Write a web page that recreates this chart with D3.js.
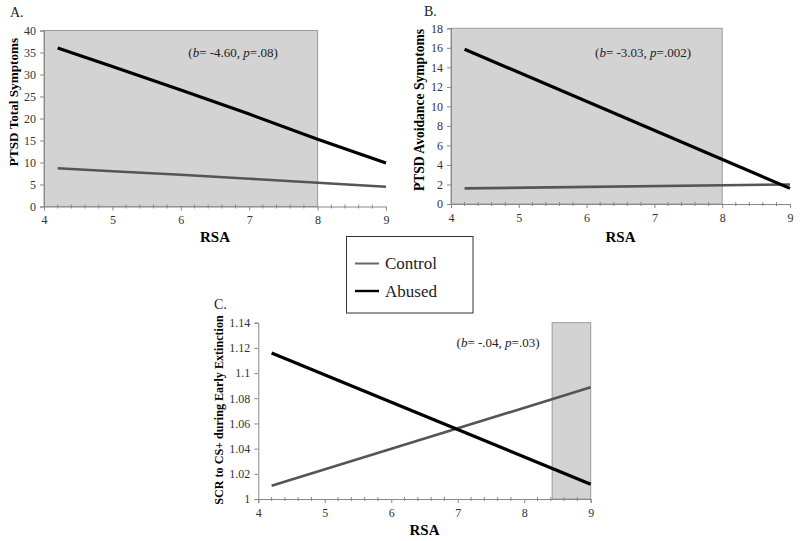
<!DOCTYPE html>
<html><head><meta charset="utf-8">
<script src="https://cdn.jsdelivr.net/npm/d3@7"></script>
<style>body{margin:0;background:#fff}svg{display:block}svg text{font-family:"Liberation Serif","Times New Roman",serif}</style>
</head><body>
<svg id="c" width="800" height="541"></svg>
<script>
// ---- data ----
const seriesNames = ["Control", "Abused"];
const rsaA = [4.2, 5, 6, 7, 8, 9];
const controlA = [8.7, 8.0, 7.2, 6.3, 5.4, 4.5];
const abusedA = [36.0, 31.8, 26.5, 21.0, 15.3, 9.9];
const rsaB = [4.2, 9];
const controlB = [1.6, 2.0];
const abusedB = [15.85, 1.6];
const rsaC = [4.2, 9];
const controlC = [1.0106, 1.0887];
const abusedC = [1.116, 1.0117];
const regionA = [4, 8];
const regionB = [4, 8];
const regionC = [8.42, 9];
const xTicks = [4, 5, 6, 7, 8, 9];
const yTicksA = [0, 5, 10, 15, 20, 25, 30, 35, 40];
const yTicksB = [0, 2, 4, 6, 8, 10, 12, 14, 16, 18];
const yTicksC = [1, 1.02, 1.04, 1.06, 1.08, 1.1, 1.12, 1.14];
const annA = ["-4.60", ".08"];
const annB = ["-3.03", ".002"];
const annC = ["-.04", ".03"];

const svg = d3.select("#c");
const FONT = '"Liberation Serif","Times New Roman",serif';
const colors = {Control: "#555555", Abused: "#000"};
const widths = {Control: 2.6, Abused: 3.2};

function panel(o) {
  const x = d3.scaleLinear().domain([4, 9]).range([o.x0, o.x1]);
  const y = d3.scaleLinear().domain(o.ydom).range([o.y0, o.y1]);
  const g = svg.append("g");
  g.append("rect")
    .attr("x", x(o.region[0])).attr("y", y(o.ydom[1]))
    .attr("width", x(o.region[1]) - x(o.region[0]))
    .attr("height", y(o.ydom[0]) - y(o.ydom[1]))
    .attr("fill", "#d3d3d3").attr("stroke", "#9a9a9a").attr("stroke-width", 1);
  const xAxis = d3.axisBottom(x).tickValues(xTicks).tickSize(4).tickPadding(5).tickFormat(d3.format("d"));
  const gx = g.append("g").attr("transform", `translate(0,${o.y0})`).call(xAxis);
  const minor = d3.range(4, 9.001, 0.2).filter(v => Math.abs(v - Math.round(v)) > 1e-6);
  gx.selectAll(".minor").data(minor).enter().append("line")
    .attr("x1", d => x(d)).attr("x2", d => x(d)).attr("y1", -2).attr("y2", 2)
    .attr("stroke", "#888");
  const yAxis = d3.axisLeft(y).tickValues(o.yticks).tickSize(4).tickPadding(4).tickFormat(o.yfmt);
  const gy = g.append("g").attr("transform", `translate(${o.x0},0)`).call(yAxis);
  [gx, gy].forEach(a => {
    a.attr("font-family", null);
    a.select(".domain").attr("stroke", "#888");
    a.selectAll(".tick line").attr("stroke", "#888");
    a.selectAll("text").style("font-family", FONT).style("font-size", "12px").attr("fill", "#333");
  });
  const line = d3.line().x(d => x(d[0])).y(d => y(d[1]));
  [["Control", o.control], ["Abused", o.abused]].forEach(([n, vals]) => {
    g.append("path").datum(o.rsa.map((r, i) => [r, vals[i]]))
      .attr("d", line).attr("fill", "none").attr("stroke-linejoin", "round")
      .attr("stroke", colors[n]).attr("stroke-width", widths[n]);
  });
  const t = g.append("text").attr("x", o.annX).attr("y", o.annY)
    .attr("text-anchor", "middle").style("font-family", FONT).style("font-size", "13px").attr("fill", "#222");
  t.append("tspan").text("(");
  t.append("tspan").attr("font-style", "italic").text("b");
  t.append("tspan").text("= " + o.ann[0] + ", ");
  t.append("tspan").attr("font-style", "italic").text("p");
  t.append("tspan").text("=" + o.ann[1] + ")");
  g.append("text").attr("x", (o.x0 + o.x1) / 2).attr("y", o.xtY)
    .attr("text-anchor", "middle").style("font-family", FONT).attr("font-weight", "bold")
    .style("font-size", "15px").text("RSA");
  g.append("text").attr("transform", `translate(${o.ytX},${o.ytY}) rotate(-90)`)
    .attr("text-anchor", "middle").style("font-family", FONT).attr("font-weight", "bold")
    .style("font-size", o.ytSize + "px").text(o.ytitle);
  g.append("text").attr("x", o.lx).attr("y", o.ly).style("font-family", FONT)
    .style("font-size", "14px").attr("fill", "#222").text(o.label);
}

panel({x0: 44, x1: 386, y0: 206.5, y1: 30.5, ydom: [0, 40], yticks: yTicksA, yfmt: d3.format("d"),
  rsa: rsaA, control: controlA, abused: abusedA, region: regionA, ann: annA,
  annX: 233, annY: 57, xtY: 242, ytX: 18, ytY: 102, ytSize: 13.2, ytitle: "PTSD Total Symptoms",
  lx: 10, ly: 17, label: "A."});
panel({x0: 451, x1: 790, y0: 204, y1: 28.3, ydom: [0, 18], yticks: yTicksB, yfmt: d3.format("d"),
  rsa: rsaB, control: controlB, abused: abusedB, region: regionB, ann: annB,
  annX: 643, annY: 57, xtY: 242, ytX: 424, ytY: 110, ytSize: 13.6, ytitle: "PTSD Avoidance Symptoms",
  lx: 424, ly: 16, label: "B."});
panel({x0: 258.3, x1: 590.7, y0: 499, y1: 322.7, ydom: [1, 1.14], yticks: yTicksC, yfmt: d => String(+d.toFixed(2)),
  rsa: rsaC, control: controlC, abused: abusedC, region: regionC, ann: annC,
  annX: 498, annY: 347, xtY: 535, ytX: 223, ytY: 410, ytSize: 12.1, ytitle: "SCR to CS+ during Early Extinction",
  lx: 214, ly: 309, label: "C."});

const lg = svg.append("g");
lg.append("rect").attr("x", 346.5).attr("y", 236.5).attr("width", 126.5).attr("height", 76.5)
  .attr("fill", "#fff").attr("stroke", "#333").attr("stroke-width", 1);
seriesNames.forEach((n, i) => {
  const yy = 263.5 + i * 27.5;
  lg.append("line").attr("x1", 355).attr("x2", 379).attr("y1", yy).attr("y2", yy)
    .attr("stroke", n === "Abused" ? "#000" : "#666").attr("stroke-width", n === "Abused" ? 2.4 : 2);
  lg.append("text").attr("x", 385).attr("y", yy + 5.5).style("font-family", FONT)
    .style("font-size", "17px").attr("fill", "#222").text(n);
});
</script>
</body></html>
